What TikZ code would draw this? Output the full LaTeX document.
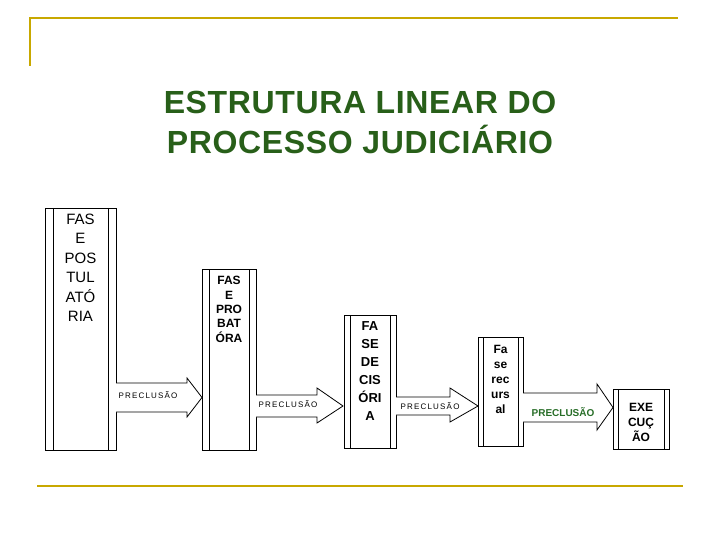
\documentclass[tikz,border=0pt]{standalone}
\usepackage{fontspec}
\setmainfont{Liberation Sans}
\begin{document}
\begin{tikzpicture}[x=1pt,y=-1pt,
  gold/.style={draw=goldc,line width=2.5pt},
  pre/.style={font=\fontsize{8}{8}\selectfont\addfontfeature{LetterSpace=15}, inner sep=0}]
\definecolor{goldc}{RGB}{200,168,0}
\definecolor{titlegreen}{RGB}{40,95,25}
\definecolor{pgreen}{RGB}{40,110,40}
\useasboundingbox (0,0) rectangle (720,540);
\draw[gold] (30,66) -- (30,18) -- (678,18);
\draw[gold] (37,486) -- (683,486);
\node[text=titlegreen, align=center, font=\fontsize{32}{40}\selectfont\bfseries\addfontfeature{LetterSpace=2}] (title) at (360,122) {ESTRUTURA LINEAR DO\\PROCESSO JUDICIÁRIO};
\newcommand\phbox[6]{%
  \draw[thick] (#1,#2) rectangle (#3,#4);
  \draw (#1+#5,#2) -- (#1+#5,#4) (#3-#5,#2) -- (#3-#5,#4);
  \coordinate (#6) at (#1,#2);}
\phbox{45}{208}{116}{450}{8}{b1}
\phbox{202}{269}{256}{450}{7}{b2}
\phbox{344}{315}{396}{448}{6}{b3}
\phbox{478}{337}{523}{446}{5}{b4}
\phbox{613}{389}{669}{449}{5}{b5}
\node[font=\fontsize{15}{19.5}\selectfont, align=center, anchor=north] (t1) at (80.5,210) {FAS\\E\\POS\\TUL\\ATÓ\\RIA};
\node[font=\fontsize{12}{14.3}\selectfont\bfseries, align=center, anchor=north] (t2) at (229,273) {FAS\\E\\PRO\\BAT\\ÓRA};
\node[font=\fontsize{13}{18}\selectfont\bfseries, align=center, anchor=north] (t3) at (370,318) {FA\\SE\\DE\\CIS\\ÓRI\\A};
\node[font=\fontsize{12}{15}\selectfont\bfseries, align=center, anchor=north] (t4) at (500.5,342) {Fa\\se\\rec\\urs\\al};
\node[font=\fontsize{12}{15}\selectfont\bfseries, align=center, anchor=north] (t5) at (641,400) {EXE\\CUÇ\\ÃO};
\newcommand\fatarrow[8]{%
  \draw[thick,fill=white] (#1,#2) -- (#4,#2) -- (#4,#5) -- (#7,{(#2+#3)/2}) -- (#4,#6) -- (#4,#3) -- (#1,#3);
  \coordinate (#8) at ({(#1+#4)/2},{(#2+#3)/2});}
\fatarrow{116}{383}{412}{187}{378}{417}{202}{a1}
\fatarrow{256}{395}{417}{317}{388}{423}{343}{a2}
\fatarrow{396}{397}{415}{450}{388}{422}{478}{a3}
\fatarrow{523}{393}{422}{597}{384}{430}{613}{a4}
\node[pre] (p1) at (148,395) {PRECLUSÃO};
\node[pre] (p2) at (288,404) {PRECLUSÃO};
\node[pre] (p3) at (430,406) {PRECLUSÃO};
\node[font=\fontsize{10}{10}\selectfont\bfseries, text=pgreen] (p4) at (563,412) {PRECLUSÃO};
\end{tikzpicture}
\end{document}
